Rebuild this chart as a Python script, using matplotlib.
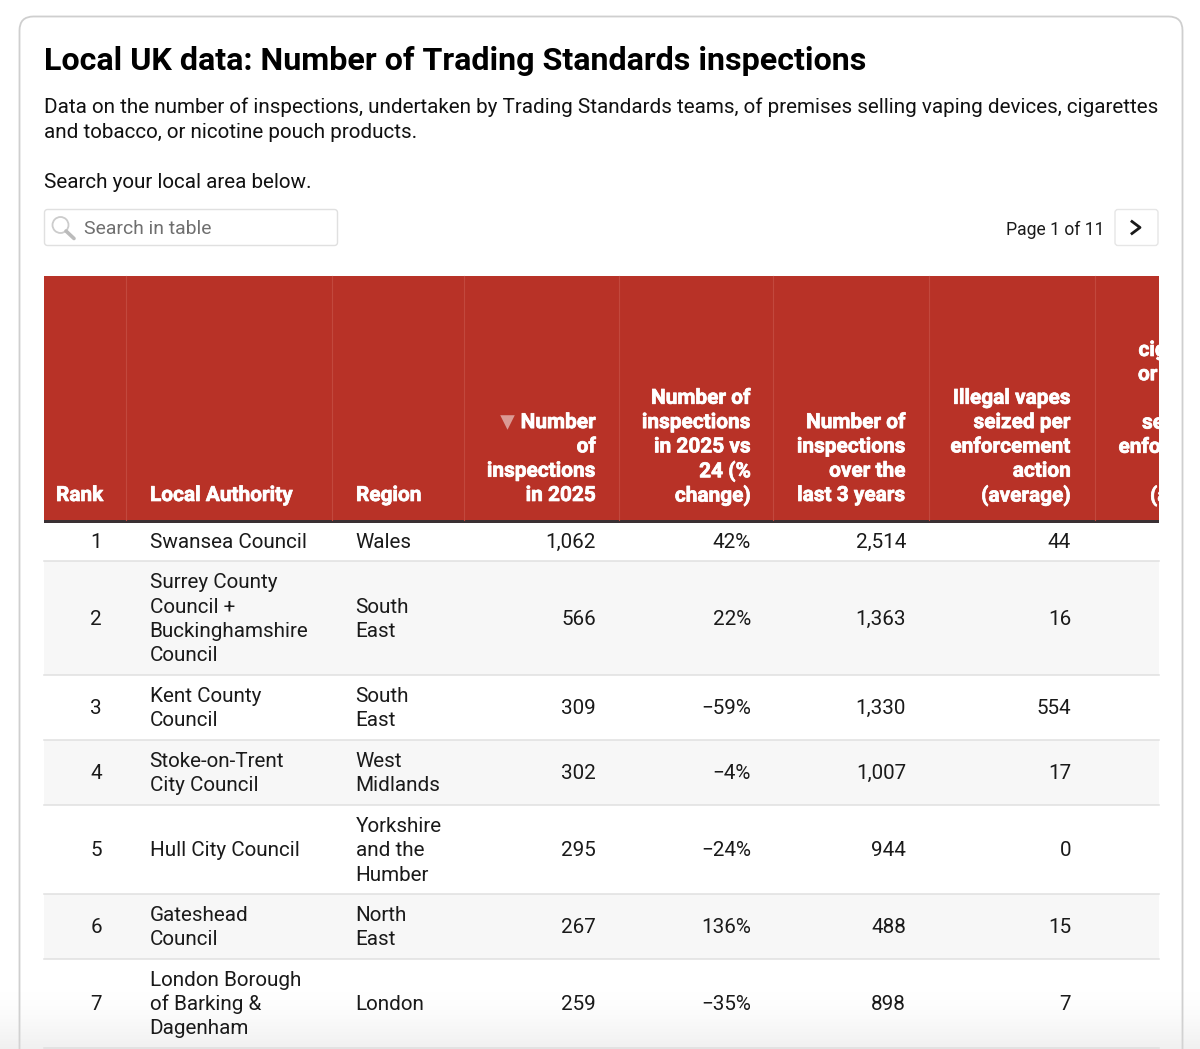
import numpy as np
import matplotlib.pyplot as plt
import matplotlib.patheffects as pe
from matplotlib.patches import FancyBboxPatch, Rectangle, Circle

# table data
ranks = ['1', '2', '3', '4', '5', '6', '7']
authorities = ['Swansea Council',
               'Surrey County\nCouncil +\nBuckinghamshire\nCouncil',
               'Kent County\nCouncil',
               'Stoke-on-Trent\nCity Council',
               'Hull City Council',
               'Gateshead\nCouncil',
               'London Borough\nof Barking &\nDagenham']
regions = ['Wales', 'South\nEast', 'South\nEast', 'West\nMidlands',
           'Yorkshire\nand the\nHumber', 'North\nEast', 'London']
inspections = ['1,062', '566', '309', '302', '295', '267', '259']
change = ['42%', '22%', '\u221259%', '\u22124%', '\u221224%', '136%', '\u221235%']
three_years = ['2,514', '1,363', '1,330', '1,007', '944', '488', '898']
vapes = ['44', '16', '554', '17', '0', '15', '7']

headers = ['Rank', 'Local Authority', 'Region', 'Number\nof\ninspections\nin 2025',
           'Number of\ninspections\nin 2025 vs\n24 (%\nchange)',
           'Number of\ninspections\nover the\nlast 3 years',
           'Illegal vapes\nseized per\nenforcement\naction\n(average)']
# last column is cut by the right edge of the table
cut_header = ['ciga', 'or t', '', 'sei', 'enfor', '', '(av']
cut_x = [1138.5, 1138, 0, 1142, 1118.5, 0, 1150]

# layout in pixels
row_edges = [522, 561, 675, 740, 805, 894, 959, 1048]
col_edges = [44, 126, 332, 464, 619, 773, 929, 1095, 1159]
line_h = 24.3
body_size = 14.9
head_size = 15.0

plt.rcParams['font.family'] = ['Roboto', 'DejaVu Sans']

fig = plt.figure(figsize=(12, 10.49), dpi=100, facecolor='white')
ax = fig.add_axes([0, 0, 1, 1])
ax.set_xlim(0, 1200)
ax.set_ylim(1049, 0)
ax.axis('off')

heavy = [pe.withStroke(linewidth=0.5, foreground='white')]


def lines(x, yc, s, ha='left', color='#1a1a1a', size=body_size, weight='normal', effects=None):
    # draw multi-line cell text one line at a time, centred on yc
    parts = s.split('\n')
    top = yc - line_h * (len(parts) - 1) / 2
    for i, p in enumerate(parts):
        t = ax.text(x, top + i * line_h, p, ha=ha, va='center_baseline', color=color,
                    fontsize=size, fontweight=weight, zorder=5)
        if effects:
            t.set_path_effects(effects)


# card
ax.add_patch(FancyBboxPatch((19.5, 16.5), 1163, 1100, boxstyle='round,pad=0,rounding_size=14',
                            fc='white', ec='#cfcfcf', lw=1.3, zorder=1))

# intro text
ax.text(44, 58.5, 'Local UK data: Number of Trading Standards inspections', fontsize=23.25,
        fontweight='bold', color='black', va='center_baseline', zorder=5)
ax.text(44, 105, 'Data on the number of inspections, undertaken by Trading Standards teams, of premises '
        'selling vaping devices, cigarettes', fontsize=14.82, color='#111111', va='center_baseline', zorder=5)
ax.text(44, 130, 'and tobacco, or nicotine pouch products.', fontsize=14.82, color='#111111',
        va='center_baseline', zorder=5)
ax.text(44, 180.5, 'Search your local area below.', fontsize=14.82, color='#111111',
        va='center_baseline', zorder=5)

# search box
ax.add_patch(FancyBboxPatch((44.5, 209.5), 293, 36, boxstyle='round,pad=0,rounding_size=3',
                            fc='white', ec='#e0e0e0', lw=1.0, zorder=2))
ax.add_patch(Circle((60.5, 225), 8, fc='none', ec='#cccccc', lw=1.3, zorder=3))
ax.plot([66, 74], [231, 238.5], color='#bbbbbb', lw=2.6, solid_capstyle='round', zorder=3)
ax.text(84, 227, 'Search in table', fontsize=13.95, color='#6f6f6f', va='center_baseline', zorder=5)

# pager
ax.text(1105, 228, 'Page 1 of 11', fontsize=12.65, color='#1a1a1a', ha='right',
        va='center_baseline', zorder=5)
ax.add_patch(FancyBboxPatch((1115, 209.5), 43, 36, boxstyle='round,pad=0,rounding_size=3',
                            fc='white', ec='#e6e6e6', lw=1.0, zorder=2))
ax.plot([1132, 1140, 1132], [221.5, 227.5, 233.5], color='#1a1a1a', lw=2.0, zorder=3)

# header band
clip_rect = Rectangle((44, 276), 1115, 244, transform=ax.transData)
ax.add_patch(Rectangle((44, 276), 1115, 244, fc='#b83227', ec='none', zorder=2))
ax.add_patch(Rectangle((44, 520), 1115, 2.5, fc='#3a3033', ec='none', zorder=3))
for x in col_edges[1:-1]:
    ax.plot([x, x], [276, 520], color='#c2483d', lw=0.8, zorder=3)

# header labels, bottom aligned
bottom = 493.5
h_x = [56, 150, 356, 596, 751, 906, 1071]
h_ha = ['left', 'left', 'left', 'right', 'right', 'right', 'right']
for x, ha, s in zip(h_x, h_ha, headers):
    parts = s.split('\n')
    lines(x, bottom - line_h * (len(parts) - 1) / 2, s, ha=ha, color='white', size=head_size,
          weight='bold', effects=heavy)
for i, (x, s) in enumerate(zip(cut_x, cut_header)):
    if s:
        t = ax.text(x, 348.5 + i * 24.2, s, color='white', fontsize=head_size, fontweight='bold',
                    va='center_baseline', zorder=5, clip_on=True, path_effects=heavy)
        t.set_clip_path(clip_rect)
ax.scatter([506.5], [422], marker='v', s=110, color='#db9a94', linewidths=0, zorder=5)

# body rows
cell_x = [96, 149.5, 355.5, 596, 751, 906, 1071]
for i in range(len(ranks)):
    y0, y1 = row_edges[i], row_edges[i + 1]
    yc = (y0 + y1) / 2 - 0.8
    if i == 0:
        yc = 540
    if i % 2 == 1:
        ax.add_patch(Rectangle((44, y0), 1115, y1 - y0, fc='#f7f7f7', ec='none', zorder=2))
    ax.plot([44, 1159], [y1, y1], color='#e0e0e0', lw=1.1, zorder=3)
    lines(cell_x[0], yc, ranks[i], ha='center')
    lines(cell_x[1], yc, authorities[i])
    lines(cell_x[2], yc, regions[i])
    lines(cell_x[3], yc, inspections[i], ha='right')
    lines(cell_x[4], yc, change[i], ha='right')
    lines(cell_x[5], yc, three_years[i], ha='right')
    lines(cell_x[6], yc, vapes[i], ha='right')

# fade at the bottom edge of the screenshot, under the text
fade = np.zeros((60, 1, 4))
fade[:, :, :3] = 0.86
fade[:, 0, 3] = np.linspace(0, 0.55, 60) ** 1.5
ax.imshow(fade, extent=(0, 1200, 1049, 989), aspect='auto', zorder=4, interpolation='bilinear')
ax.set_xlim(0, 1200)
ax.set_ylim(1049, 0)

fig.savefig('out.png', dpi=100, facecolor='white')
